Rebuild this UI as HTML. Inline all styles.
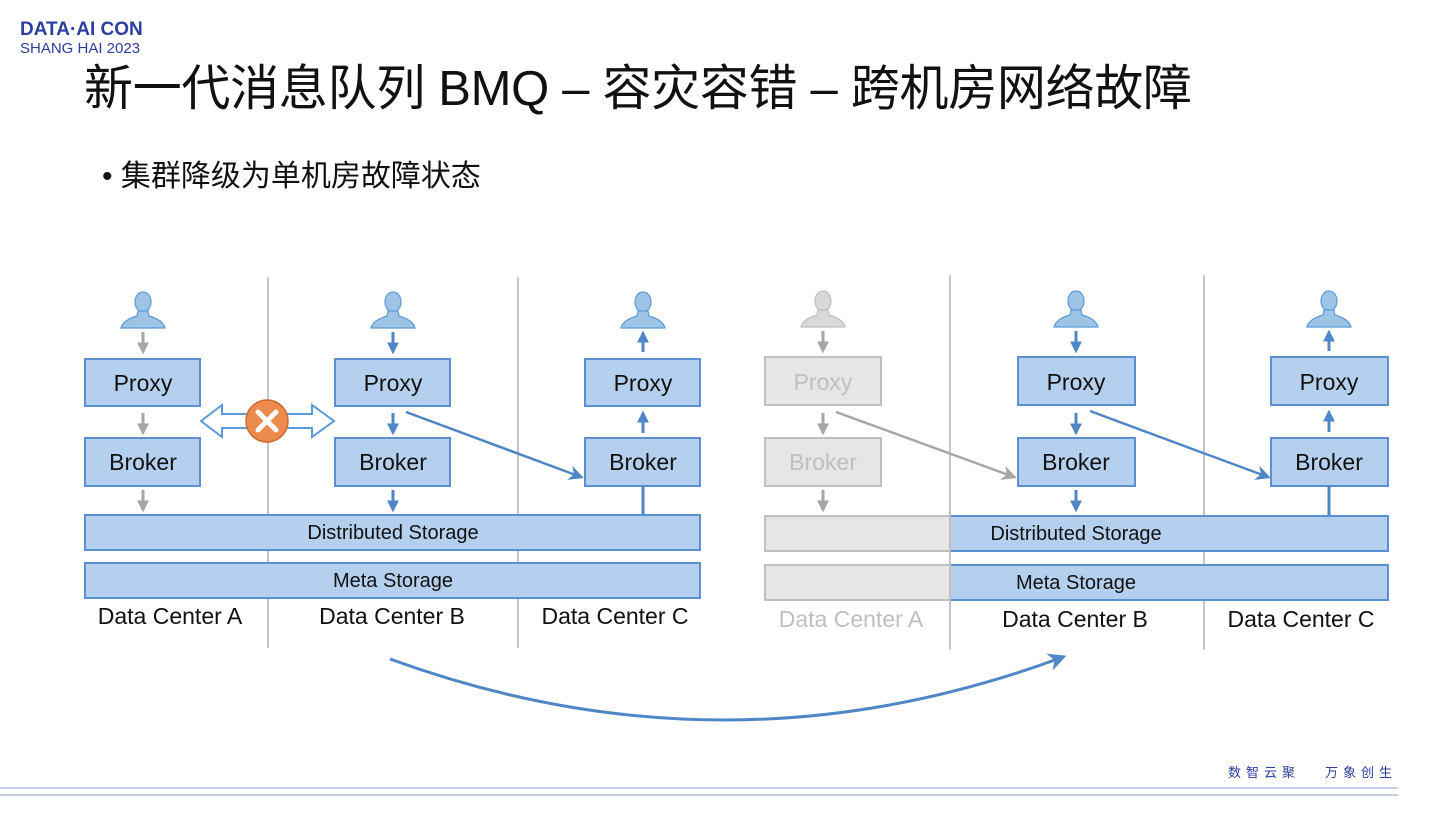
<!DOCTYPE html>
<html><head><meta charset="utf-8"><style>
body{margin:0;width:1440px;height:810px;background:#fff;overflow:hidden;font-family:"Liberation Sans","Noto Sans CJK SC",sans-serif;}
</style></head><body>
<svg width="1440" height="810" viewBox="0 0 1440 810" xmlns="http://www.w3.org/2000/svg" font-family="Liberation Sans, Noto Sans CJK SC, sans-serif">
<defs>
<marker id="ab" viewBox="0 0 10 10" refX="8" refY="5" markerWidth="4" markerHeight="4" orient="auto"><path d="M0,0L10,5L0,10z" fill="#4f86c6"/></marker>
<marker id="ag" viewBox="0 0 10 10" refX="8" refY="5" markerWidth="4" markerHeight="4" orient="auto"><path d="M0,0L10,5L0,10z" fill="#a6a6a6"/></marker>
<marker id="ab2" viewBox="0 0 10 10" refX="8" refY="5" markerWidth="6" markerHeight="6" orient="auto"><path d="M0,0L10,5L0,10L3,5z" fill="#4f86c6"/></marker>
<marker id="ag2" viewBox="0 0 10 10" refX="8" refY="5" markerWidth="6" markerHeight="6" orient="auto"><path d="M0,0L10,5L0,10L3,5z" fill="#a6a6a6"/></marker>
<g id="person"><ellipse cx="0" cy="-12" rx="8" ry="10"/><path d="M-5,-3 L-6,2 Q-20,6 -22,14 L22,14 Q20,6 6,2 L5,-3z"/></g>
</defs>
<text x="20" y="35" font-size="19" font-weight="bold" fill="#2c3e9e">DATA·AI CON</text>
<text x="20" y="53" font-size="15" fill="#2c3e9e">SHANG HAI  2023</text>
<text x="84" y="105" font-size="49" fill="#111" textLength="1108">新一代消息队列 BMQ – 容灾容错 – 跨机房网络故障</text>
<text x="102" y="186" font-size="30" fill="#111">• 集群降级为单机房故障状态</text>

<g stroke="#a6a6a6" stroke-width="1.3">
<line x1="268" y1="277" x2="268" y2="648"/><line x1="518" y1="277" x2="518" y2="648"/>
<line x1="950" y1="275" x2="950" y2="650"/><line x1="1204" y1="275" x2="1204" y2="650"/>
</g>

<g fill="#9dc3e6" stroke="#5b9bd5" stroke-width="1.2">
<use href="#person" x="143" y="314"/><use href="#person" x="393" y="314"/><use href="#person" x="643" y="314"/>
<use href="#person" x="1076" y="313"/><use href="#person" x="1329" y="313"/>
</g>
<g fill="#d9d9d9" stroke="#bfbfbf" stroke-width="1.2"><use href="#person" x="823" y="313"/></g>

<g fill="#b4d0ee" stroke="#5b8fd0" stroke-width="2">
<rect x="85" y="359" width="115" height="47"/><rect x="335" y="359" width="115" height="47"/><rect x="585" y="359" width="115" height="47"/>
<rect x="85" y="438" width="115" height="48"/><rect x="335" y="438" width="115" height="48"/><rect x="585" y="438" width="115" height="48"/>
<rect x="85" y="515" width="615" height="35"/><rect x="85" y="563" width="615" height="35"/>
<rect x="1018" y="357" width="117" height="48"/><rect x="1271" y="357" width="117" height="48"/>
<rect x="1018" y="438" width="117" height="48"/><rect x="1271" y="438" width="117" height="48"/>
<rect x="950" y="516" width="438" height="35"/><rect x="950" y="565" width="438" height="35"/>
</g>
<g fill="#e6e6e6" stroke="#bfbfbf" stroke-width="2">
<rect x="765" y="357" width="116" height="48"/><rect x="765" y="438" width="116" height="48"/>
<rect x="765" y="516" width="185" height="35"/><rect x="765" y="565" width="185" height="35"/>
</g>

<g font-size="23" fill="#111" text-anchor="middle">
<text x="143" y="391">Proxy</text><text x="393" y="391">Proxy</text><text x="643" y="391">Proxy</text>
<text x="143" y="470">Broker</text><text x="393" y="470">Broker</text><text x="643" y="470">Broker</text>
<text x="1076" y="390">Proxy</text><text x="1329" y="390">Proxy</text>
<text x="1076" y="470">Broker</text><text x="1329" y="470">Broker</text>
</g>
<g font-size="23" fill="#bfbfbf" text-anchor="middle"><text x="823" y="390">Proxy</text><text x="823" y="470">Broker</text></g>
<g font-size="20" fill="#111" text-anchor="middle">
<text x="393" y="539">Distributed Storage</text><text x="393" y="587">Meta Storage</text>
<text x="1076" y="540">Distributed Storage</text><text x="1076" y="589">Meta Storage</text>
</g>
<g font-size="23" fill="#111" text-anchor="middle">
<text x="170" y="624">Data Center A</text><text x="392" y="624">Data Center B</text><text x="615" y="624">Data Center C</text>
<text x="1075" y="627">Data Center B</text><text x="1301" y="627">Data Center C</text>
</g>
<text x="851" y="627" font-size="23" fill="#bfbfbf" text-anchor="middle">Data Center A</text>

<g stroke="#a6a6a6" stroke-width="3" marker-end="url(#ag)">
<line x1="143" y1="332" x2="143" y2="352"/><line x1="143" y1="413" x2="143" y2="433"/><line x1="143" y1="490" x2="143" y2="510"/>
<line x1="823" y1="331" x2="823" y2="351"/><line x1="823" y1="413" x2="823" y2="433"/><line x1="823" y1="490" x2="823" y2="510"/>
</g>
<g stroke="#4f86c6" stroke-width="3" marker-end="url(#ab)">
<line x1="393" y1="332" x2="393" y2="352"/><line x1="393" y1="413" x2="393" y2="433"/><line x1="393" y1="490" x2="393" y2="510"/>
<line x1="643" y1="352" x2="643" y2="333"/><line x1="643" y1="433" x2="643" y2="413"/>
<line x1="1076" y1="331" x2="1076" y2="351"/><line x1="1076" y1="413" x2="1076" y2="433"/><line x1="1076" y1="490" x2="1076" y2="510"/>
<line x1="1329" y1="351" x2="1329" y2="332"/><line x1="1329" y1="432" x2="1329" y2="412"/>
</g>
<g stroke="#4f86c6" stroke-width="3"><line x1="643" y1="486" x2="643" y2="514"/><line x1="1329" y1="486" x2="1329" y2="515"/></g>
<g stroke-width="2.5" fill="none">
<line x1="406" y1="412" x2="581" y2="477" stroke="#4f86c6" marker-end="url(#ab2)"/>
<line x1="1090" y1="411" x2="1268" y2="477" stroke="#4f86c6" marker-end="url(#ab2)"/>
<line x1="836" y1="412" x2="1014" y2="477" stroke="#a6a6a6" marker-end="url(#ag2)"/>
<path d="M390,659 Q727,782 1063,657" stroke="#4f86c6" stroke-width="3" marker-end="url(#ab2)"/>
</g>

<path d="M201,421 L222,405 L222,414 L312,414 L312,405 L334,421 L312,437 L312,428 L222,428 L222,437z" fill="#fff" stroke="#5b9bd5" stroke-width="2"/>
<circle cx="267" cy="421" r="21" fill="#ed8b4e" stroke="#c96b2e" stroke-width="1.5"/>
<g stroke="#fff" stroke-width="5" stroke-linecap="round"><line x1="258" y1="412" x2="276" y2="430"/><line x1="276" y1="412" x2="258" y2="430"/></g>

<text x="1228" y="777" font-size="13" fill="#2c3e9e" letter-spacing="5">数智云聚</text>
<text x="1325" y="777" font-size="13" fill="#2c3e9e" letter-spacing="5">万象创生</text>
<line x1="0" y1="788" x2="1398" y2="788" stroke="#8a9ad0" stroke-width="1"/>
<line x1="0" y1="795" x2="1398" y2="795" stroke="#8a9ad0" stroke-width="1"/>
</svg>
</body></html>
